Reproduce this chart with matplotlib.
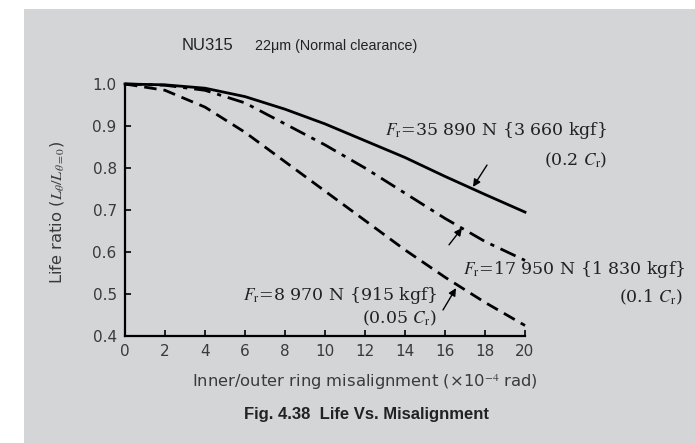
import matplotlib
matplotlib.use("Agg")
import matplotlib.pyplot as plt
from matplotlib.patches import Rectangle

# misalignment (x10^-4 rad)
x = [0, 2, 4, 6, 8, 10, 12, 14, 16, 18, 20]
# life ratio curves
fr_02 = [1.0, 0.998, 0.99, 0.97, 0.94, 0.905, 0.865, 0.825, 0.78, 0.737, 0.695]
fr_01 = [1.0, 0.997, 0.985, 0.955, 0.905, 0.855, 0.80, 0.74, 0.68, 0.625, 0.58]
fr_005 = [1.0, 0.985, 0.945, 0.885, 0.815, 0.745, 0.675, 0.605, 0.54, 0.48, 0.425]

xticks = [0, 2, 4, 6, 8, 10, 12, 14, 16, 18, 20]
yticks = [0.4, 0.5, 0.6, 0.7, 0.8, 0.9, 1.0]

plt.rcParams['mathtext.fontset'] = 'stix'
W, H = 695, 443
fig = plt.figure(figsize=(W/100, H/100), dpi=100)
fig.patch.set_facecolor("white")
fig.patches.append(Rectangle((24/W, 0), 1-24/W, 1-9/H, transform=fig.transFigure,
                             facecolor="#d4d5d7", edgecolor="none", zorder=-5))

ax = fig.add_axes([125/W, 107/H, 400/W, 252/H])
ax.set_facecolor("none")
ax.set_zorder(2)
ax.plot(x, fr_02, color="black", lw=2, clip_on=False)
ax.plot(x, fr_01, color="black", lw=2, clip_on=False, dashes=(6, 2.5, 1.5, 2.5))
ax.plot(x, fr_005, color="black", lw=2, clip_on=False, dashes=(4.5, 2.5))
ax.set_xlim(0, 20)
ax.set_ylim(0.4, 1.0)
ax.set_xticks(xticks)
ax.set_yticks(yticks)
ax.set_yticklabels(["%.1f" % v for v in yticks])
for s in ["top", "right"]:
    ax.spines[s].set_visible(False)
for s in ["left", "bottom"]:
    ax.spines[s].set_linewidth(1.6)
ax.tick_params(direction="in", length=4, width=1.2, labelsize=11,
               labelcolor="#3a3a3a", pad=6)

fig.text(182/W, 1-46/H, "NU315", fontsize=12,
         va="center", ha="left", color="#222222", family="Liberation Sans")
fig.text(255/W, 1-46/H, "22\u03bcm (Normal clearance)", fontsize=10.3,
         va="center", ha="left", color="#222222", family="Liberation Sans")
fig.text(57/W, 1-212/H, r"Life ratio ($L_\theta/L_{\theta=0}$)", rotation=90,
         fontsize=11.8, va="center", ha="center", color="#3a3a3a")
fig.text(365/W, 1-382/H, "Inner/outer ring misalignment (\u00d710$^{-4}$ rad)",
         fontsize=11.8, va="center", ha="center", color="#3a3a3a")
fig.text(366/W, 1-415/H, "Fig. 4.38  Life Vs. Misalignment", fontsize=12,
         fontweight="bold", va="center", ha="center", color="#222222",
         family="Liberation Sans")

serif = dict(fontsize=12.5, family="DejaVu Serif", color="#222222", va="center")
fig.text(607/W, 1-130/H, r"$F_\mathrm{r}$=35 890 N {3 660 kgf}", ha="right", **serif)
fig.text(607/W, 1-160/H, r"(0.2 $C_\mathrm{r}$)", ha="right", **serif)
fig.text(685/W, 1-269/H, r"$F_\mathrm{r}$=17 950 N {1 830 kgf}", ha="right", **serif)
fig.text(683/W, 1-297/H, r"(0.1 $C_\mathrm{r}$)", ha="right", **serif)
fig.text(438/W, 1-296/H, r"$F_\mathrm{r}$=8 970 N {915 kgf}", ha="right", **serif)
fig.text(437/W, 1-318/H, r"(0.05 $C_\mathrm{r}$)", ha="right", **serif)

arrow = dict(arrowstyle="-|>", color="black", lw=1, mutation_scale=11,
             shrinkA=0, shrinkB=0)
ax.annotate("", xy=(17.4, 0.755), xytext=(18.1, 0.807), arrowprops=arrow)
ax.annotate("", xy=(16.85, 0.657), xytext=(16.2, 0.617), arrowprops=arrow)
ax.annotate("", xy=(16.55, 0.514), xytext=(15.9, 0.462), arrowprops=arrow)

fig.savefig("out.png", dpi=100)
